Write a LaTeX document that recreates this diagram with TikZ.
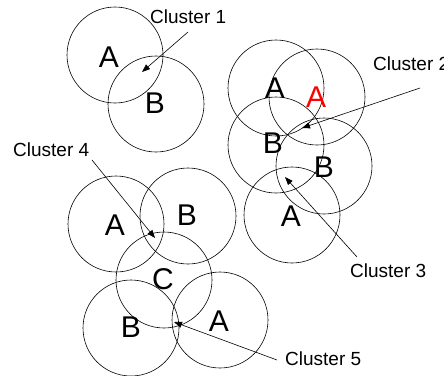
\documentclass[tikz,border=0pt]{standalone}
\usepackage{fontspec}
\setmainfont{Liberation Sans}
\usetikzlibrary{arrows.meta}
\begin{document}
\begin{tikzpicture}[x=1pt,y=-1pt,
  ring/.style={draw, circle, minimum size=96pt, inner sep=0pt, line width=0.6pt},
  big/.style={font=\fontsize{30}{30}\selectfont, inner sep=0pt},
  lbl/.style={font=\fontsize{19}{19}\selectfont, inner sep=0pt, anchor=west},
  arr/.style={-{Triangle[length=8pt,width=6pt]}, line width=0.6pt}]
\useasboundingbox (0,0) rectangle (444,375);
% Cluster 1
\node[ring] (c1a) at (115,55) {};
\node[ring] (c1b) at (156,104) {};
\node[big] (l1a) at (109,57) {A};
\node[big] (l1b) at (155,103) {B};
% Cluster 2 / 3
\node[ring] (c2a) at (276,88) {};
\node[ring] (c2r) at (317,97) {};
\node[ring] (c2b) at (276,145) {};
\node[ring] (c3b) at (324,166) {};
\node[ring] (c3a) at (292,215) {};
\node[big] (l2a) at (275,88) {A};
\node[big, text=red] (l2r) at (316,97) {A};
\node[big] (l2b) at (273,143) {B};
\node[big] (l3b) at (324,167) {B};
\node[big] (l3a) at (291,216) {A};
% Cluster 4 / 5
\node[ring] (c4a) at (116,224) {};
\node[ring] (c4b) at (188,216) {};
\node[ring] (c4c) at (164,280) {};
\node[ring] (c5b) at (131,328) {};
\node[ring] (c5a) at (220,320) {};
\node[big] (l4a) at (115,225) {A};
\node[big] (l4b) at (187,215) {B};
\node[big] (l4c) at (163,279) {C};
\node[big] (l5b) at (131,327) {B};
\node[big] (l5a) at (219,321) {A};
% Labels
\node[lbl] (t1) at (150,17) {Cluster 1};
\node[lbl] (t2) at (373,64) {Cluster 2};
\node[lbl] (t3) at (350,271) {Cluster 3};
\node[lbl] (t4) at (13,150) {Cluster 4};
\node[lbl] (t5) at (285,359) {Cluster 5};
% Arrow ends
\coordinate (s1) at (188,32);  \coordinate (e1) at (142,72);
\coordinate (s2) at (420,88);  \coordinate (e2) at (302,128);
\coordinate (s3) at (357,257); \coordinate (e3) at (285,177);
\coordinate (s4) at (92,160);  \coordinate (e4) at (155,238);
\coordinate (s5) at (277,360); \coordinate (e5) at (174,322);
\draw[arr] (s1) -- (e1);
\draw[arr] (s2) -- (e2);
\draw[arr] (s3) -- (e3);
\draw[arr] (s4) -- (e4);
\draw[arr] (s5) -- (e5);
\end{tikzpicture}
\end{document}
